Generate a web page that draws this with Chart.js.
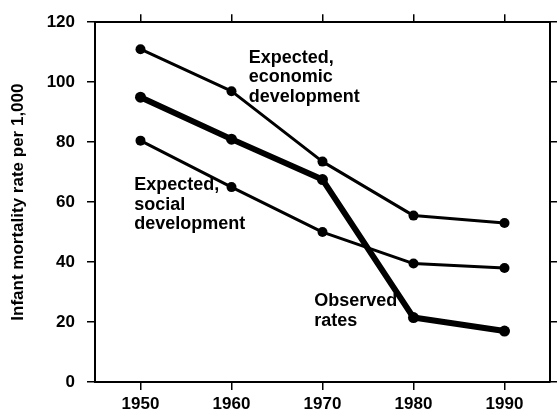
<!DOCTYPE html>
<html>
<head>
<meta charset="utf-8">
<script src="https://cdn.jsdelivr.net/npm/chart.js@4/dist/chart.umd.min.js"></script>
<style>
html,body{margin:0;padding:0;background:#fff;}
#wrap{width:557px;height:414px;position:relative;}
</style>
</head>
<body>
<div id="wrap"><canvas id="c" width="557" height="414"></canvas></div>
<script>
const years = ['1950','1960','1970','1980','1990'];
const economic = [111, 97, 73.5, 55.5, 53];
const observed = [95, 81, 67.5, 21.5, 17];
const social = [80.5, 65, 50, 39.5, 38];
const yTicks = [0, 20, 40, 60, 80, 100, 120];
const yTitle = 'Infant mortality rate per 1,000';
// annotation labels, anchored in data units (category index, value)
const labels = [
  {lines:['Expected,','economic','development'], x:1.19, y:106.4},
  {lines:['Expected,','social','development'], x:-0.07, y:64},
  {lines:['Observed','rates'], x:1.91, y:25.2}
];

const FONT = '"Liberation Sans", Arial, sans-serif';

const labelPlugin = {
  id:'labelPlugin',
  afterDatasetsDraw(chart){
    const ctx = chart.ctx, xs = chart.scales.x, ys = chart.scales.y;
    ctx.save();
    ctx.fillStyle = '#000';
    ctx.font = 'bold 18px ' + FONT;
    ctx.textAlign = 'left';
    ctx.textBaseline = 'alphabetic';
    const step = xs.getPixelForValue(1) - xs.getPixelForValue(0);
    for (const l of labels){
      const px = xs.getPixelForValue(0) + l.x * step;
      const py = ys.getPixelForValue(l.y);
      l.lines.forEach((t,i)=>ctx.fillText(t, px, py + i*19.5));
    }
    ctx.restore();
  }
};

function ds(data, w, r){
  return {data, borderColor:'#000', backgroundColor:'#000', borderWidth:w,
    pointRadius:r, pointBackgroundColor:'#000', pointBorderColor:'#000',
    pointBorderWidth:0, tension:0, fill:false, borderJoinStyle:'round', borderCapStyle:'round'};
}

const axisBorder = {display:true, color:'#000', width:2};
new Chart(document.getElementById('c'), {
  type:'line',
  data:{labels:years, datasets:[ds(economic,3,5), ds(social,3,5), ds(observed,6,5.5)]},
  options:{
    responsive:false, animation:false,
    layout:{padding:{top:0,right:0,bottom:0,left:0}},
    plugins:{legend:{display:false}, tooltip:{enabled:false}},
    scales:{
      x:{type:'category', position:'bottom', offset:true,
        grid:{offset:false, drawOnChartArea:false, drawTicks:true, tickLength:8, color:'#000', lineWidth:1.5},
        border:axisBorder,
        ticks:{color:'#000', font:{family:FONT, size:17, weight:'bold'}, padding:4, maxRotation:0},
        afterFit(s){ s.height = 32; }
      },
      x2:{type:'category', position:'top', offset:true, labels:years,
        grid:{offset:false, drawOnChartArea:false, drawTicks:true, tickLength:8, color:'#000', lineWidth:1.5},
        border:axisBorder,
        ticks:{display:false},
        afterFit(s){ s.height = 20; }
      },
      y:{type:'linear', position:'left', min:0, max:120,
        afterBuildTicks(s){ s.ticks = yTicks.map(v=>({value:v})); },
        grid:{drawOnChartArea:false, drawTicks:true, tickLength:8, color:'#000', lineWidth:1.5},
        border:axisBorder,
        ticks:{color:'#000', font:{family:FONT, size:17, weight:'bold'}, padding:12},
        title:{display:true, text:yTitle, color:'#000', font:{family:FONT, size:17, weight:'bold'}, padding:{top:8,bottom:0}},
        afterFit(s){ s.width = 95; }
      },
      y2:{type:'linear', position:'right', min:0, max:120,
        afterBuildTicks(s){ s.ticks = yTicks.map(v=>({value:v})); },
        grid:{drawOnChartArea:false, drawTicks:true, tickLength:7, color:'#000', lineWidth:1.5},
        border:axisBorder,
        ticks:{display:false},
        afterFit(s){ s.width = 7; }
      }
    }
  },
  plugins:[labelPlugin]
});
</script>
</body>
</html>
